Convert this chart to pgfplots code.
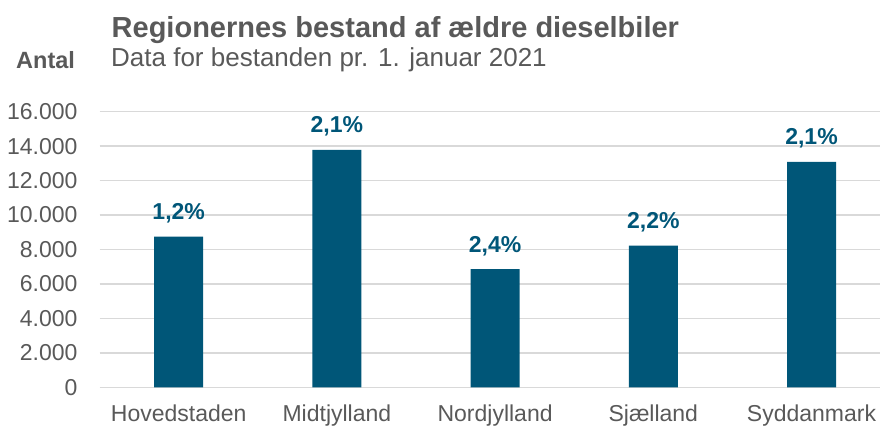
\documentclass[border=0pt]{standalone}
\usepackage{pgfplots}
\usepackage{pgfplotstable}
\pgfplotsset{compat=1.18}
\usepackage{fontspec}
\setmainfont{Liberation Sans}
\definecolor{barblue}{HTML}{005678}
\definecolor{txtgray}{HTML}{595959}
\definecolor{gridgray}{HTML}{D9D9D9}
\pgfplotstableread{
x y label
0 8750 1,2
1 13790 2,1
2 6860 2,4
3 8230 2,2
4 13090 2,1
}\datatable
\begin{document}
\begin{tikzpicture}[x=1bp,y=1bp]
\path[use as bounding box] (0,0) rectangle (880,428);
\begin{axis}[
  at={(99.6bp,40.7bp)}, anchor=south west,
  scale only axis,
  width=780.4bp, height=275.6bp,
  xmin=-0.5, xmax=4.433,
  ymin=0, ymax=16000,
  ytick={0,2000,...,16000},
  scaled y ticks=false,
  yticklabel={\pgfmathprintnumber[fixed,precision=0,1000 sep={.},assume math mode=true]{\tick}},
  xtick=data,
  xticklabels={Hovedstaden,Midtjylland,Nordjylland,Sj\ae lland,Syddanmark},
  axis line style={draw=none},
  tick style={draw=none},
  ymajorgrids,
  major grid style={draw=gridgray, line width=1.6bp},
  yticklabel style={font=\fontsize{23bp}{26bp}\selectfont, text=txtgray, anchor=east, inner sep=0pt, xshift=-22bp},
  xticklabel style={font=\fontsize{23bp}{26bp}\selectfont, text=txtgray, anchor=north, inner sep=0pt, yshift=-17bp},
  clip=false,
]
\addplot[ybar, bar width=49bp, fill=barblue, draw=none,
  point meta=explicit symbolic,
  nodes near coords={\pgfplotspointmeta\%},
  nodes near coords style={anchor=base, inner sep=0pt, yshift=17bp, text=barblue, font=\fontsize{23bp}{26bp}\selectfont\bfseries},
] table[x=x, y=y, meta=label] {\datatable};
\end{axis}
\node[anchor=base west, inner sep=0pt, text=txtgray, font=\fontsize{29bp}{32bp}\selectfont\bfseries] at (111.5,390) {Regionernes bestand af ældre dieselbiler};
\node[anchor=base west, inner sep=0pt, text=txtgray, font=\fontsize{26bp}{30bp}\selectfont] at (111,362) {Data for bestanden pr. 1. januar 2021};
\node[anchor=base west, inner sep=0pt, text=txtgray, font=\fontsize{23.5bp}{26bp}\selectfont\bfseries] at (16,360) {Antal};
\end{tikzpicture}
\end{document}
